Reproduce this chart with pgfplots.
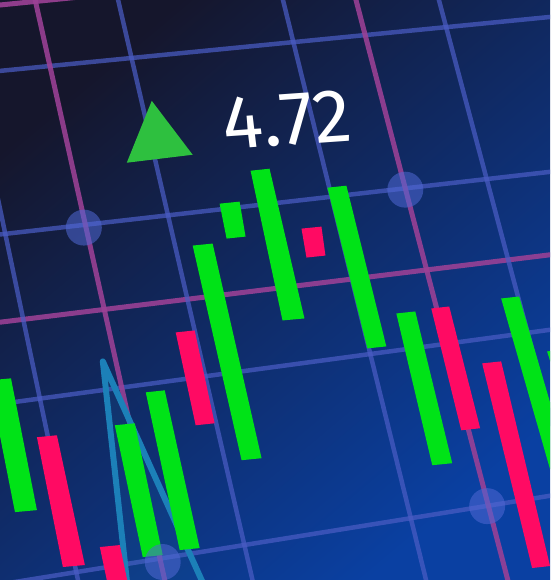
\documentclass[border=0pt]{standalone}
\usepackage{pgfplots}
\pgfplotsset{compat=1.18}
\usepackage{fontspec}
\newfontfamily\numfont{Fira Sans}
\definecolor{bgA}{HTML}{15162C}
\definecolor{bgM}{HTML}{0E1D50}
\definecolor{bgB}{HTML}{0A40A2}
\definecolor{gridblue}{HTML}{4A5CC4}
\definecolor{gridpink}{HTML}{9C4196}
\definecolor{candg}{HTML}{00E317}
\definecolor{candr}{HTML}{FF0A63}
\definecolor{trig}{HTML}{2EC03F}
\definecolor{cyanl}{HTML}{1C80B8}
\definecolor{circ}{HTML}{5068D4}
\begin{document}
\begin{tikzpicture}
\begin{axis}[
  width=551pt, height=580pt, scale only axis,
  hide axis,
  xmin=0, xmax=551, ymin=0, ymax=580,
  y dir=reverse,
  clip=true,
]
% background
\addplot[draw=none, top color=bgA, middle color=bgM, bottom color=bgB, shading angle=40]
  coordinates {(0,0) (551,0) (551,580) (0,580)} -- cycle;
% horizontal grid lines
\addplot[gridpink, line width=5pt, opacity=0.9] coordinates {(-10,6) (100,-5)};
\addplot[gridblue, line width=4.5pt, opacity=0.72] coordinates {(-10,72) (561,16)};
\addplot[gridblue, line width=4.5pt, opacity=0.72] coordinates {(-10,236) (561,171)};
\addplot[gridpink, line width=5pt, opacity=0.88] coordinates {(-10,324) (561,254)};
\addplot[gridblue, line width=4.5pt, opacity=0.72] coordinates {(-10,406) (561,329)};
\addplot[gridblue, line width=4.5pt, opacity=0.72] coordinates {(-10,587) (561,495)};
% vertical grid lines
\addplot[gridblue, line width=4.5pt, opacity=0.72] coordinates {(-46,-10) (80,590)};
\addplot[gridpink, line width=5pt, opacity=0.88] coordinates {(33,-10) (167,590)};
\addplot[gridblue, line width=4.5pt, opacity=0.72] coordinates {(116,-10) (255,590)};
\addplot[gridblue, line width=4.5pt, opacity=0.72] coordinates {(281,-10) (429,590)};
\addplot[gridpink, line width=5pt, opacity=0.88] coordinates {(354,-10) (511,590)};
\addplot[gridblue, line width=4.5pt, opacity=0.72] coordinates {(437,-10) (597,590)};
% circles at intersections
\addplot[only marks, draw opacity=0, fill=circ, fill opacity=0.55, mark=*, mark size=18pt,
  mark options={draw opacity=0, fill=circ, fill opacity=0.55}]
  coordinates {(84,228) (406,190) (163,563) (488,507)};
% cyan triangle line
\addplot[cyanl, line width=6pt, line join=round, fill=cyanl, fill opacity=0.12]
  coordinates {(128,590) (103,362) (206,590)};
% candles (green)
\addplot[fill=candg, draw=none] coordinates {(-11,381) (11,379) (37,511) (15,513)} -- cycle;
\addplot[fill=candg, draw=none] coordinates {(115,426) (135,424) (163,556) (143,558)} -- cycle;
\addplot[fill=candg, draw=none] coordinates {(146,393) (165,391) (200,549) (180,551)} -- cycle;
\addplot[fill=candg, draw=none] coordinates {(193,246) (213,244) (262,459) (242,461)} -- cycle;
\addplot[fill=candg, draw=none] coordinates {(220,204) (240,202) (246,237) (227,239)} -- cycle;
\addplot[fill=candg, draw=none] coordinates {(251,171) (270,169) (305,319) (283,321)} -- cycle;
\addplot[fill=candg, draw=none] coordinates {(328,188) (347,186) (387,347) (368,349)} -- cycle;
\addplot[fill=candg, draw=none] coordinates {(397,314) (416,312) (453,464) (433,466)} -- cycle;
\addplot[fill=candg, draw=none] coordinates {(502,299) (520,297) (570,468) (551,470)} -- cycle;
\addplot[fill=candg, draw=none] coordinates {(548,352) (570,350) (600,450) (580,452)} -- cycle;
% candles (pink)
\addplot[fill=candr, draw=none] coordinates {(37,438) (57,436) (85,566) (63,568)} -- cycle;
\addplot[fill=candr, draw=none] coordinates {(100,548) (120,546) (131,598) (111,600)} -- cycle;
\addplot[fill=candr, draw=none] coordinates {(176,333) (195,331) (215,424) (196,426)} -- cycle;
\addplot[fill=candr, draw=none] coordinates {(302,229) (322,227) (326,256) (307,258)} -- cycle;
\addplot[fill=candr, draw=none] coordinates {(432,309) (450,307) (481,429) (462,431)} -- cycle;
\addplot[fill=candr, draw=none] coordinates {(483,364) (502,362) (551,567) (533,569)} -- cycle;
% green up triangle
\addplot[fill=trig, draw=none] coordinates {(152,101) (193,155) (127,163)} -- cycle;
% value text
\node[text=white, rotate=4, xslant=-0.05, font=\numfont\fontsize{76}{76}\selectfont, inner sep=0pt]
  at (axis cs:287,120) {4.72};
\end{axis}
\end{tikzpicture}
\end{document}
